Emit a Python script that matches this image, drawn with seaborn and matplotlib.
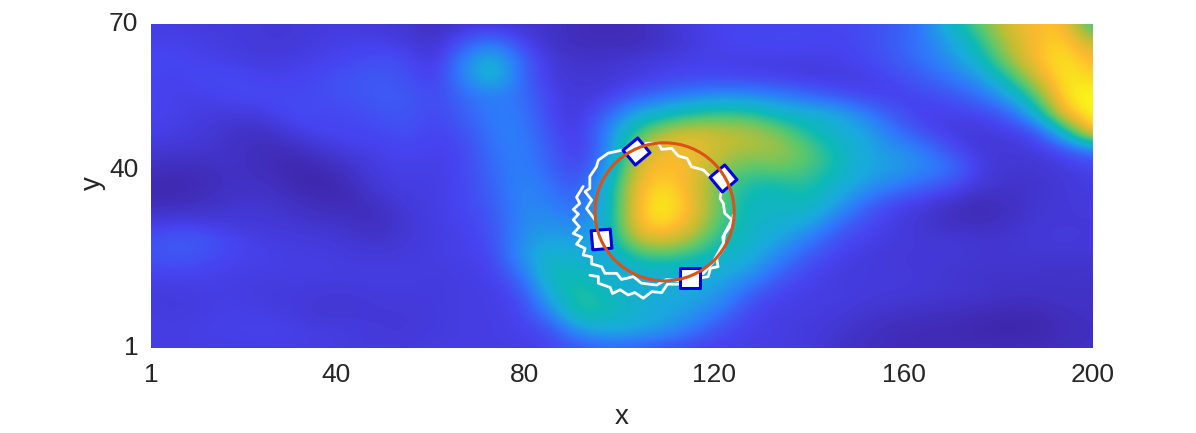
#!/usr/bin/env python
# coding: utf-8

import numpy as np
import pandas as pd
import matplotlib.pyplot as plt
import seaborn as sns
from matplotlib.colors import LinearSegmentedColormap
from matplotlib.markers import MarkerStyle
from matplotlib.patches import Circle
from matplotlib.transforms import Affine2D

# Field, top row is y=70, bottom row y=1, columns run x=1..200
field_rows = [
    [.10,.10,.09,.09,.08,.08,.09,.09,.08,.07,.04,.07,.07,.06,.06,.03,.03,.03,.07,.10,.12,.12,.12,.13,.13,.14,.17,.24,.45,.62,.80,.87,.90,.50],
    [.11,.11,.10,.09,.08,.08,.10,.11,.11,.09,.05,.17,.25,.12,.05,.03,.03,.03,.05,.09,.12,.13,.14,.13,.12,.14,.18,.25,.36,.52,.75,.87,.93,.75],
    [.13,.13,.11,.10,.09,.10,.11,.13,.15,.14,.07,.30,.45,.20,.08,.06,.06,.08,.10,.11,.11,.10,.10,.10,.11,.13,.17,.23,.32,.45,.68,.88,.97,.85],
    [.12,.11,.14,.14,.11,.12,.14,.16,.18,.15,.10,.30,.47,.20,.09,.07,.08,.09,.12,.13,.13,.12,.11,.09,.09,.10,.13,.18,.24,.33,.52,.78,.98,.92],
    [.12,.11,.11,.13,.15,.13,.14,.16,.18,.18,.13,.22,.26,.24,.11,.08,.10,.18,.23,.28,.31,.30,.27,.22,.16,.12,.11,.13,.16,.22,.36,.60,.97,1.0],
    [.12,.11,.09,.09,.09,.15,.13,.13,.16,.17,.12,.20,.27,.26,.12,.08,.20,.38,.46,.54,.58,.56,.46,.42,.40,.28,.17,.10,.11,.12,.18,.40,.88,1.0],
    [.11,.10,.08,.05,.05,.09,.13,.13,.13,.15,.12,.15,.26,.27,.15,.08,.28,.56,.74,.80,.76,.74,.66,.52,.42,.38,.25,.15,.09,.08,.10,.13,.45,.95],
    [.08,.07,.07,.05,.03,.03,.07,.10,.11,.13,.11,.13,.24,.28,.18,.09,.25,.74,.85,.85,.76,.72,.72,.62,.50,.38,.33,.27,.15,.08,.08,.09,.13,.25],
    [.04,.03,.04,.05,.03,.01,.02,.06,.10,.11,.10,.13,.22,.28,.20,.11,.32,.82,.88,.85,.68,.60,.64,.60,.50,.38,.36,.30,.25,.10,.07,.07,.09,.11],
    [.02,.01,.03,.05,.05,.02,.00,.03,.09,.10,.10,.13,.20,.30,.24,.15,.42,.85,.95,.82,.62,.50,.50,.54,.44,.34,.27,.20,.14,.08,.06,.06,.08,.10],
    [.03,.03,.05,.07,.07,.05,.03,.02,.05,.09,.10,.13,.18,.30,.27,.20,.42,.88,1.0,.85,.60,.47,.46,.50,.36,.22,.12,.09,.05,.02,.04,.07,.08,.09],
    [.09,.10,.09,.08,.08,.07,.06,.05,.03,.08,.10,.12,.16,.30,.32,.27,.42,.88,.97,.82,.58,.46,.42,.40,.24,.14,.10,.07,.04,.03,.05,.08,.08,.08],
    [.15,.19,.17,.12,.10,.09,.09,.07,.06,.08,.10,.11,.15,.32,.38,.33,.42,.76,.82,.70,.50,.45,.37,.26,.15,.11,.09,.08,.08,.07,.07,.08,.09,.08],
    [.15,.17,.14,.12,.11,.10,.10,.09,.09,.09,.10,.11,.12,.33,.46,.42,.36,.52,.56,.50,.46,.40,.28,.17,.11,.09,.08,.08,.08,.07,.07,.07,.07,.07],
    [.11,.12,.11,.10,.10,.10,.10,.10,.10,.10,.09,.10,.11,.22,.50,.50,.40,.40,.40,.40,.38,.32,.18,.12,.09,.09,.09,.08,.07,.06,.06,.06,.05,.06],
    [.09,.09,.10,.10,.09,.09,.08,.08,.09,.09,.09,.10,.10,.14,.42,.56,.48,.42,.40,.38,.34,.18,.12,.10,.10,.09,.08,.08,.07,.07,.05,.05,.06,.05],
    [.10,.09,.10,.11,.10,.09,.07,.07,.08,.08,.09,.10,.10,.12,.28,.56,.50,.42,.38,.34,.24,.12,.10,.10,.09,.07,.06,.05,.04,.03,.02,.02,.04,.05],
    [.10,.10,.11,.11,.12,.11,.10,.10,.08,.08,.09,.10,.10,.11,.14,.34,.40,.38,.34,.24,.14,.11,.10,.09,.07,.05,.03,.02,.02,.01,.00,.01,.03,.04],
    [.10,.10,.10,.10,.10,.10,.10,.09,.09,.09,.10,.10,.10,.10,.12,.16,.20,.18,.14,.12,.11,.10,.10,.09,.06,.04,.03,.03,.03,.03,.03,.03,.04,.05],
]

# Jagged white contour pieces
outer_x = [92.3,90.9,91.6,90.2,91.3,90.2,91.5,90.2,92.0,90.9,92.7,92.3,94.1,94.1,96.2,96.9,99.4,100.4,102.9,104.6,107.8,109.9,112.7,114.9]
outer_y = [35.4,33.1,31.8,30.5,29.5,28.3,26.8,25.4,24.6,23.1,22.2,20.8,20.4,18.9,18.3,16.9,16.9,15.6,16.2,14.8,14.4,15.6,15.3,16.2]
lower_x = [93.7,95.5,95.5,98.0,98.5,100.1,101.8,103.2,105.0,106.8,108.9,110.1,112.7,114.9,118.7,119.2,120.8,120.5,122.0,121.8,123.7,124.0]
lower_y = [16.5,16.2,14.8,13.9,12.6,13.4,12.3,12.8,11.6,13.0,12.8,14.6,14.6,15.5,16.2,18.0,18.3,20.1,22.2,24.7,27.4,29.3]
upper_x = [114.9,117.7,119.8,121.9,122.2,123.7,122.2,121.9,121.2,121.5,120.5,119.1,117.7,115.2,114.2,112.4,111.0,108.9,108.2,105.7,103.2,100.8,97.6,95.5,95.1,93.7,93.7,92.7,94.1,93.0,94.8]
upper_y = [16.2,16.9,19.4,23.3,25.4,28.3,29.7,31.8,32.9,34.3,36.1,37.5,38.9,39.6,41.4,41.9,43.5,43.3,44.6,44.6,43.2,43.2,42.5,41.0,39.6,37.5,35.0,34.3,32.5,30.7,28.3]

# Square markers and their rotation
square_x = [103.4, 121.9, 96.0, 114.9]
square_y = [43.0, 37.1, 24.2, 16.0]
square_angle = [40, 40, 5, 0]

# Fitted circle
circle_x = 109.5
circle_y = 30.0
circle_r = 14.7

x_ticks = [1, 40, 80, 120, 160, 200]
y_ticks = [1, 39, 70]
y_tick_labels = ['1', '40', '70']

parula_like = LinearSegmentedColormap.from_list('parula_like', [
    (0.00, '#3E26A8'), (0.12, '#4743F0'), (0.25, '#2F78FB'), (0.38, '#1AA9DE'),
    (0.50, '#0DBAB5'), (0.62, '#5CC86B'), (0.75, '#BFBE35'), (0.87, '#FDBA2E'),
    (1.00, '#F9FB15')])


def main():
    sns.set_theme(style='white')
    plt.rcParams['font.family'] = ['Liberation Sans', 'DejaVu Sans']

    field = np.array(field_rows)
    fig = plt.figure(figsize=(11.96, 4.33), dpi=100)
    ax = fig.add_axes([151 / 1196, 1 - 348 / 433, 942 / 1196, 324 / 433])

    # heatmap sets up the cells, the smooth image is then drawn in data units
    sns.heatmap(pd.DataFrame(field), ax=ax, cmap=parula_like, vmin=0, vmax=1, cbar=False)
    ax.collections[0].remove()
    dx = 199 / (field.shape[1] - 1) / 2
    dy = 69 / (field.shape[0] - 1) / 2
    ax.imshow(field, cmap=parula_like, vmin=0, vmax=1, interpolation='bicubic', aspect='auto',
              extent=(1 - dx, 200 + dx, 1 - dy, 70 + dy), origin='upper')

    for xs, ys in [(outer_x, outer_y), (lower_x, lower_y), (upper_x, upper_y)]:
        sns.lineplot(x=xs, y=ys, ax=ax, sort=False, estimator=None, color='white', linewidth=2.0)

    for sx, sy, angle in zip(square_x, square_y, square_angle):
        marker = MarkerStyle('s', transform=Affine2D().rotate_deg(angle))
        sns.scatterplot(x=[sx], y=[sy], ax=ax, marker=marker, s=190, color='white',
                        edgecolor='#0000E0', linewidth=2.2, zorder=3)

    ax.add_patch(Circle((circle_x, circle_y), circle_r, fill=False, edgecolor='#D95319',
                        linewidth=2.2, zorder=4))

    ax.set_xlim(1, 200)
    ax.set_ylim(1, 70)
    ax.set_xticks(x_ticks)
    ax.set_xticklabels(x_ticks, rotation=0)
    ax.set_yticks(y_ticks)
    ax.set_yticklabels(y_tick_labels, rotation=0)
    ax.tick_params(length=0, labelsize=19, labelcolor='#262626')
    ax.tick_params(axis='x', pad=11)
    ax.tick_params(axis='y', pad=9)
    ax.set_xlabel('x', fontsize=20, color='#262626', labelpad=12)
    ax.set_ylabel('y', fontsize=20, color='#262626', labelpad=2, y=0.51)
    sns.despine(ax=ax, left=True, bottom=True)

    plt.savefig('out.png', dpi=100)


if __name__ == "__main__":
    main()
